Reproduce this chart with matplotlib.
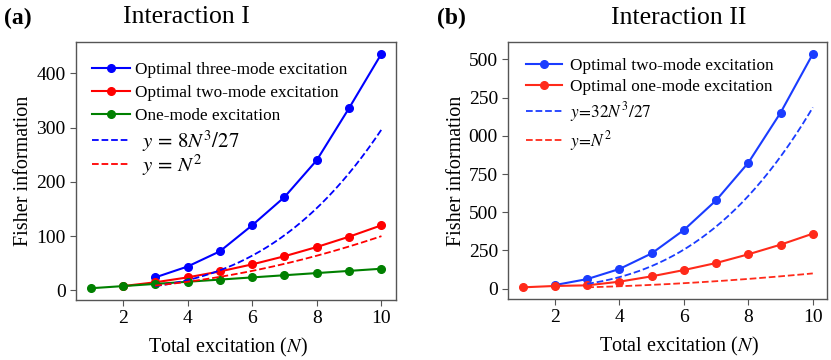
import numpy as np
import matplotlib
matplotlib.use("Agg")
import matplotlib.pyplot as plt

plt.rcParams['font.family'] = ['Liberation Serif', 'DejaVu Serif']
plt.rcParams['mathtext.fontset'] = 'stix'

# ---- data: panel (a) Interaction I ----
N_three = [3, 4, 5, 6, 7, 8, 9, 10]
F_three = [24, 44, 72, 120, 172, 240, 336, 436]
N_two_a = [2, 3, 4, 5, 6, 7, 8, 9, 10]
F_two_a = [8, 15, 24, 35, 48, 63, 80, 99, 120]
N_one_a = [1, 2, 3, 4, 5, 6, 7, 8, 9, 10]
F_one_a = [4, 8, 12, 16, 20, 24, 28, 32, 36, 40]

# ---- data: panel (b) Interaction II ----
N_two_b = [2, 3, 4, 5, 6, 7, 8, 9, 10]
F_two_b = [24, 63, 129, 231, 384, 578, 824, 1151, 1535]
N_one_b = [1, 2, 3, 4, 5, 6, 7, 8, 9, 10]
F_one_b = [9, 18, 22, 46, 81, 122, 168, 225, 288, 360]

# reference curves stated in the legends
coef_a = 8 / 27
coef_b = 32 / 27
N_ref_start, N_ref_end = 3, 10

yticks_b = [0, 250, 500, 750, 1000, 1250, 1500]
yticklabels_b = ['0', '250', '500', '750', '000', '250', '500']

fig = plt.figure(figsize=(8.31, 3.60), dpi=100)
ax1 = fig.add_axes([76/831, 60/360, 320/831, 258/360])
ax2 = fig.add_axes([508.3/831, 61/360, 319/831, 256.7/360])

spine_col = '#555555'
for ax in (ax1, ax2):
    for s in ax.spines.values():
        s.set_color(spine_col)
        s.set_linewidth(1.0)
    ax.tick_params(labelsize=14, color=spine_col, length=4)

Nf = np.linspace(N_ref_start, N_ref_end, 200)

# panel (a)
h1, = ax1.plot(N_three, F_three, '-o', color='#0000ff', lw=1.5, ms=5.5,
               label='Optimal three-mode excitation')
h2, = ax1.plot(N_two_a, F_two_a, '-o', color='#ff0000', lw=1.5, ms=5.5,
               label='Optimal two-mode excitation')
h3, = ax1.plot(N_one_a, F_one_a, '-o', color='#008000', lw=1.5, ms=5.5,
               label='One-mode excitation')
h4, = ax1.plot(Nf, coef_a * Nf**3, '--', color='#0000ff', lw=1.3,
               label=r'$y\,=\,8N^3/27$')
h5, = ax1.plot(Nf, Nf**2, '--', color='#ff0000', lw=1.3,
               label=r'$y\,=\,N^2$')
ax1.set_xticks([2, 4, 6, 8, 10])
ax1.set_yticks([0, 100, 200, 300, 400])
ax1.set_xlabel('Total excitation ($N$)', fontsize=14.5, labelpad=6, x=0.475)
ax1.set_ylabel('Fisher information', fontsize=14.5, labelpad=2)
ax1.set_title('Interaction I', fontsize=18.5, pad=13.5, x=0.344)
legA = ax1.legend(handles=[h1, h2, h3], loc='upper left', frameon=False,
                  fontsize=12.4, handlelength=2.2, handletextpad=0.25,
                  labelspacing=0.42, borderaxespad=0.0,
                  bbox_to_anchor=(0.03, 0.95))
ax1.add_artist(legA)
ax1.legend(handles=[h4, h5], loc='upper left', frameon=False,
           fontsize=15, handlelength=1.8, handletextpad=0.6,
           labelspacing=-0.08, borderaxespad=0.0,
           bbox_to_anchor=(0.025, 0.697))

# panel (b)
ax2.plot(N_two_b, F_two_b, '-o', color='#1a3cff', lw=1.5, ms=5.5,
         label='Optimal two-mode excitation')
ax2.plot(N_one_b, F_one_b, '-o', color='#ff2a1a', lw=1.5, ms=5.5,
         label='Optimal one-mode excitation')
ax2.plot(Nf, coef_b * Nf**3, '--', color='#1a3cff', lw=1.3,
         label=r'$y\!=\!32N^3/27$')
ax2.plot(Nf, Nf**2, '--', color='#ff2a1a', lw=1.3,
         label=r'$y\!=\!N^2$')
ax2.set_xticks([2, 4, 6, 8, 10])
ax2.set_yticks(yticks_b)
ax2.set_yticklabels(yticklabels_b)
ax2.set_xlabel('Total excitation ($N$)', fontsize=14.5, labelpad=6, x=0.535)
ax2.set_ylabel('Fisher information', fontsize=14.5, labelpad=2)
ax2.set_title('Interaction II', fontsize=18.5, pad=13.5, x=0.535)
ax2.legend(loc='upper left', frameon=False, fontsize=12.4,
           handlelength=2.05, handletextpad=0.5, labelspacing=0.28,
           borderaxespad=0.0, bbox_to_anchor=(0.035, 0.965))

fig.text(4/831, 1 - 18/360, '(a)', fontsize=17, fontweight='bold',
         va='center', ha='left')
fig.text(437/831, 1 - 18/360, '(b)', fontsize=17, fontweight='bold',
         va='center', ha='left')

fig.savefig('out.png', dpi=100)
